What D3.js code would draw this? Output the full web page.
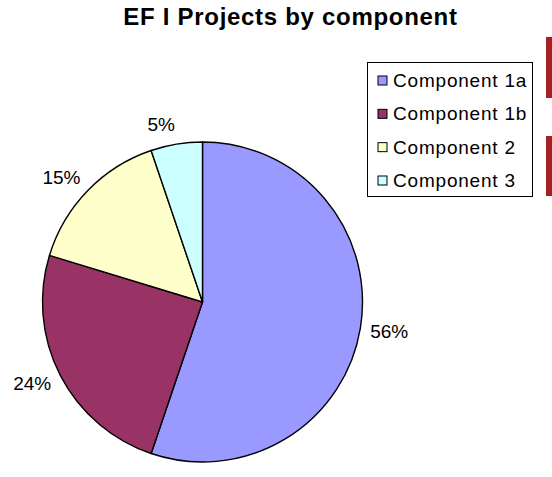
<!DOCTYPE html>
<html>
<head>
<meta charset="utf-8">
<script src="https://cdn.jsdelivr.net/npm/d3@7"></script>
<style>
  html, body { margin: 0; padding: 0; background: #ffffff; }
  svg { display: block; font-family: "Liberation Sans", Arial, sans-serif; }
</style>
</head>
<body>
<svg id="chart" width="552" height="477"></svg>
<script>
// ---- data ----
const title = "EF I Projects by component";
const categories = ["Component 1a", "Component 1b", "Component 2", "Component 3"];
const values = [55.2, 24.5, 15.1, 5.2];
const pctLabels = ["56%", "24%", "15%", "5%"];
const colors = ["#9999FF", "#993366", "#FFFFCC", "#CCFFFF"];

const svg = d3.select("#chart");

// title
svg.append("text")
  .attr("x", 290.5).attr("y", 25)
  .attr("text-anchor", "middle")
  .attr("font-weight", "bold")
  .attr("font-size", 24)
  .attr("letter-spacing", 0.7)
  .attr("fill", "#000")
  .text(title);

// pie
const cx = 202.5, cy = 302, R = 160;
const pie = d3.pie().sort(null).value(d => d)(values);
const arc = d3.arc().innerRadius(0).outerRadius(R);
const anchorArc = d3.arc().innerRadius(R + 10).outerRadius(R + 10);

const g = svg.append("g").attr("transform", `translate(${cx},${cy})`);
g.selectAll("path.slice").data(pie).join("path")
  .attr("class", "slice")
  .attr("d", arc)
  .attr("fill", (d, i) => colors[i])
  .attr("stroke", "#000")
  .attr("stroke-width", 1.4)
  .attr("stroke-linejoin", "round");

const lbls = g.selectAll("text.lbl").data(pie).join("text")
  .attr("class", "lbl")
  .attr("text-anchor", "middle")
  .attr("dominant-baseline", "central")
  .attr("font-size", 19)
  .attr("fill", "#000")
  .text((d, i) => pctLabels[i]);
lbls.each(function(d) {
  const w = this.getComputedTextLength(), h = 19;
  const a = (d.startAngle + d.endAngle) / 2;
  const [ax, ay] = anchorArc.centroid(d);
  const x = ax + Math.sign(Math.sin(a)) * w / 2;
  const y = ay - Math.cos(a) * h / 2;
  d3.select(this).attr("transform", `translate(${x},${y})`);
});

// legend
const lg = svg.append("g").attr("transform", "translate(367.5,62.5)");
lg.append("rect")
  .attr("width", 165).attr("height", 134)
  .attr("fill", "#fff").attr("stroke", "#000").attr("stroke-width", 1);
const ly = d3.scalePoint().domain(categories).range([18, 118]);
const items = lg.selectAll("g.item").data(categories).join("g")
  .attr("class", "item")
  .attr("transform", d => `translate(0,${ly(d)})`);
items.append("rect")
  .attr("x", 10.5).attr("y", -4.5).attr("width", 9).attr("height", 9)
  .attr("fill", (d, i) => colors[i]).attr("stroke", "#000").attr("stroke-width", 1);
items.append("text")
  .attr("x", 25.5).attr("y", 0)
  .attr("dominant-baseline", "central")
  .attr("font-size", 19)
  .attr("letter-spacing", 0.8)
  .attr("fill", "#000")
  .text(d => d);

// red edge marks on right side
svg.append("rect").attr("x", 546).attr("y", 37).attr("width", 6).attr("height", 61).attr("fill", "#A52024");
svg.append("rect").attr("x", 546).attr("y", 136).attr("width", 6).attr("height", 60).attr("fill", "#A52024");
</script>
</body>
</html>
